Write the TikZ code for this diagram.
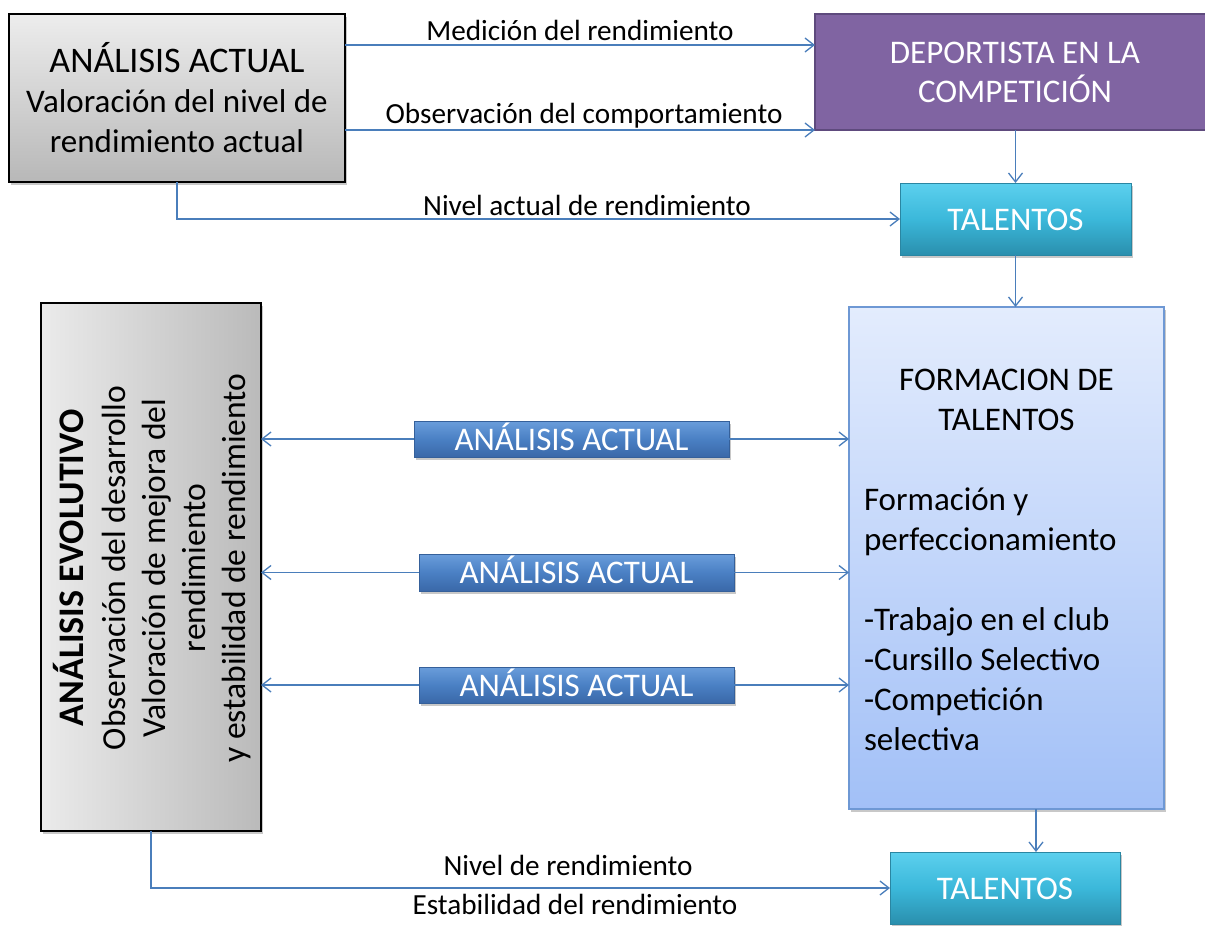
\documentclass[tikz,border=0pt]{standalone}
\usepackage{fontspec}
\setmainfont{Carlito}
\usetikzlibrary{arrows.meta,shadows,calc}
\definecolor{connc}{HTML}{4A7EBB}
\definecolor{purplef}{HTML}{8064A2}
\definecolor{purpled}{HTML}{5E4A7D}
\definecolor{talt}{HTML}{5CD0EE}
\definecolor{talm}{HTML}{3BB8DA}
\definecolor{talb}{HTML}{2A8FAD}
\definecolor{tald}{HTML}{2A86A2}
\definecolor{butt}{HTML}{6A9DDB}
\definecolor{butm}{HTML}{4A80C4}
\definecolor{butb}{HTML}{3A68A8}
\definecolor{butd}{HTML}{35609A}
\definecolor{formt}{HTML}{E3ECFD}
\definecolor{formb}{HTML}{A2C0F7}
\definecolor{formd}{HTML}{6E98D4}
\newcommand{\boxfont}{\fontsize{33}{40}\selectfont}
\newcommand{\evofont}{\fontsize{33.6}{40}\selectfont}
\newcommand{\titfont}{\fontsize{36}{40}\selectfont}
\newcommand{\lblfont}{\fontsize{29.2}{34}\selectfont}
\begin{document}
\begin{tikzpicture}[x=1pt,y=-1pt,
  base/.style={inner sep=0pt, outer sep=0pt},
  shad/.style={drop shadow={shadow xshift=2pt, shadow yshift=-3pt, opacity=0.3, fill=black!70}},
  graybox/.style={base, draw=black, line width=2pt, shad},
  purplebox/.style={base, draw=purpled, line width=2pt, fill=purplef},
  talbox/.style={base, draw=tald, line width=1pt, top color=talt, bottom color=talb, middle color=talm, shad},
  butbox/.style={base, draw=butd, line width=1pt, top color=butt, bottom color=butb, middle color=butm, shad},
  formbox/.style={base, draw=formd, line width=2pt, top color=formt, bottom color=formb, shad},
  txt/.style={base, anchor=base, text=black},
  wtxt/.style={base, anchor=base, text=white},
  conn/.style={draw=connc, line width=1.3pt},
  arr/.style={conn, -{Straight Barb[length=9pt,width=14pt,line width=1.3pt]}}
]
\useasboundingbox (0,0) rectangle (1205,926);
\fill[white] (0,0) rectangle (1205,926);

% boxes
\node[graybox, top color=black!7, bottom color=black!28, minimum width=336pt, minimum height=168pt] (actual) at (177,98) {};
\node[purplebox, minimum width=400pt, minimum height=116pt] (dep) at (1015,72) {};
\node[talbox, minimum width=231pt, minimum height=72pt] (tal1) at (1015.5,219) {};
\node[graybox, left color=black!8, right color=black!27, minimum width=220pt, minimum height=528pt] (evo) at (151,567) {};
\node[formbox, minimum width=315pt, minimum height=502pt] (form) at (1006.5,558) {};
\node[butbox, minimum width=315pt, minimum height=36pt] (b1) at (571.5,439) {};
\node[butbox, minimum width=315pt, minimum height=37pt] (b2) at (576.5,572.5) {};
\node[butbox, minimum width=315pt, minimum height=36pt] (b3) at (576.5,685) {};
\node[talbox, minimum width=230pt, minimum height=72pt] (tal2) at (1005,888) {};

% texts in boxes
\node[txt] (t1) at (177,72) {\titfont ANÁLISIS ACTUAL};
\node[txt] (t2) at (177,112) {\boxfont Valoración del nivel de};
\node[txt] (t3) at (177,152) {\boxfont rendimiento actual};
\node[wtxt] (d1) at (1015,63) {\boxfont DEPORTISTA EN LA};
\node[wtxt] (d2) at (1015,102) {\boxfont COMPETICIÓN};
\node[wtxt] (tt1) at (1015.5,230) {\boxfont TALENTOS};
\node[wtxt] (tt2) at (1005,899) {\boxfont TALENTOS};
\node[wtxt] (bt1) at (571.5,450) {\boxfont ANÁLISIS ACTUAL};
\node[wtxt] (bt2) at (576.5,583.5) {\boxfont ANÁLISIS ACTUAL};
\node[wtxt] (bt3) at (576.5,696) {\boxfont ANÁLISIS ACTUAL};
\node[base, rotate=90, align=center, text=black, font=\evofont] (evot) at (152,568)
  {{\fontsize{36}{40}\selectfont\bfseries ANÁLISIS EVOLUTIVO}\\[2pt]Observación del desarrollo\\Valoración de mejora del\\rendimiento\\y estabilidad de rendimiento};
\node[txt] (f1) at (1006.5,390) {\boxfont FORMACION DE};
\node[txt] (f2) at (1006.5,430) {\boxfont TALENTOS};
\node[txt, anchor=base west] (f3) at (864,510) {\boxfont Formación y};
\node[txt, anchor=base west] (f4) at (864,550) {\boxfont perfeccionamiento};
\node[txt, anchor=base west] (f5) at (864,630) {\boxfont -Trabajo en el club};
\node[txt, anchor=base west] (f6) at (864,670) {\boxfont -Cursillo Selectivo};
\node[txt, anchor=base west] (f7) at (864,710) {\boxfont -Competición};
\node[txt, anchor=base west] (f8) at (864,750) {\boxfont selectiva};

% connector labels
\node[txt] (l1) at (580,40) {\lblfont Medición del rendimiento};
\node[txt] (l2) at (584,123) {\lblfont Observación del comportamiento};
\node[txt] (l3) at (587,215) {\lblfont Nivel actual de rendimiento};
\node[txt] (l4) at (568,875) {\lblfont Nivel de rendimiento};
\node[txt] (l5) at (575,914) {\lblfont Estabilidad del rendimiento};

% connectors
\draw[arr] ([yshift=-31pt]actual.north east) -- ([yshift=-31pt]dep.north west);
\draw[arr] ([yshift=-116pt]actual.north east) -- (dep.south west);
\draw[arr] (actual.south) |- (tal1.west);
\draw[arr] (dep.south -| tal1.north) -- (tal1.north);
\draw[arr] (tal1.south) -- (tal1.south |- form.north);
\draw[arr] (b1.west) -- (b1.west -| evo.east);
\draw[arr] (b1.east) -- (b1.east -| form.west);
\draw[arr] (b2.west) -- (b2.west -| evo.east);
\draw[arr] (b2.east) -- (b2.east -| form.west);
\draw[arr] (b3.west) -- (b3.west -| evo.east);
\draw[arr] (b3.east) -- (b3.east -| form.west);
\draw[arr] ([xshift=29.5pt]form.south) -- ([xshift=29.5pt]form.south |- tal2.north);
\draw[arr] (evo.south) |- (tal2.west);
\end{tikzpicture}
\end{document}
